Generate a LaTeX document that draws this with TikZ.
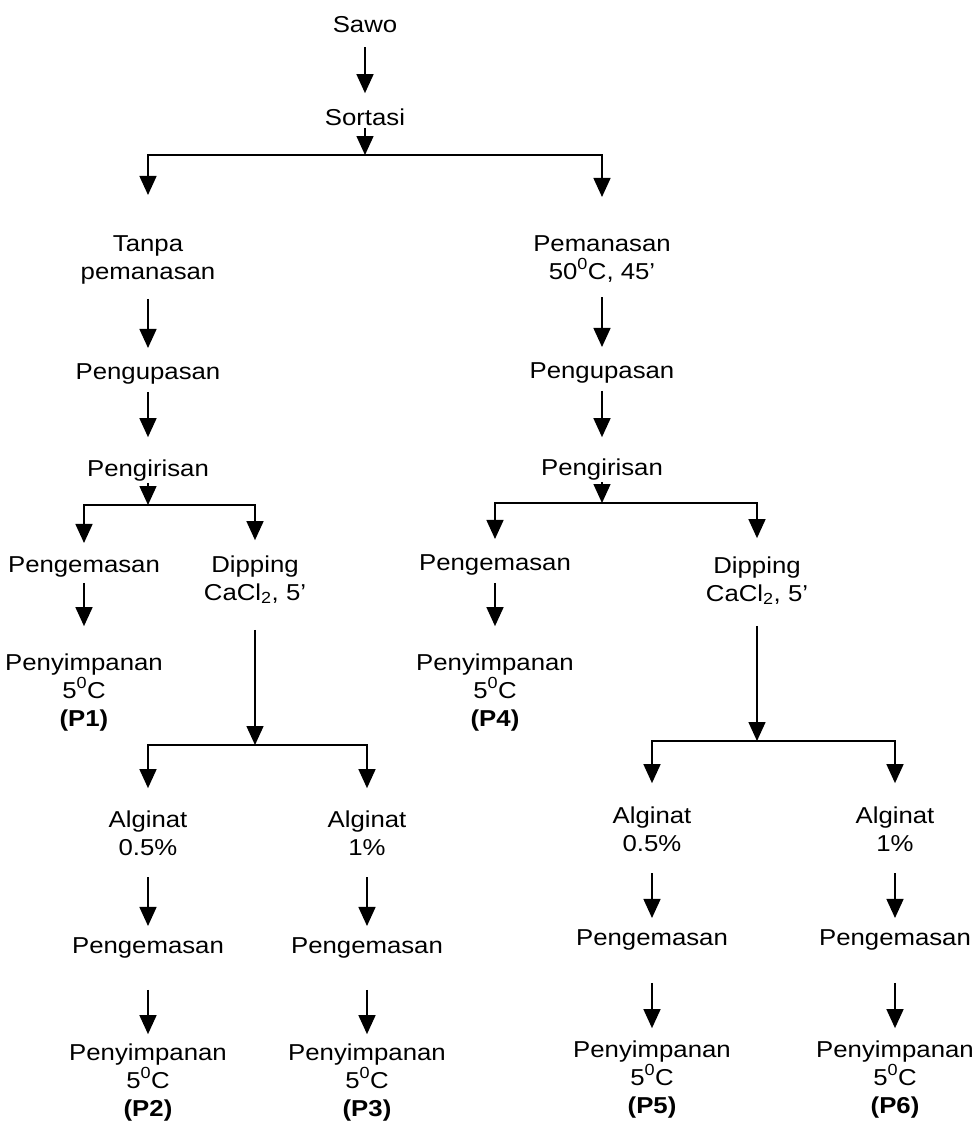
\documentclass[tikz,border=0pt]{standalone}
\usepackage{fontspec}
\setmainfont{Liberation Sans}[FakeStretch=1.12]
\usepackage{tikz}
\usetikzlibrary{arrows.meta}
\tikzstyle{lbl}= [align=center, inner sep=0pt, anchor=base, font=\fontsize{23}{28}\selectfont]
\tikzstyle{arr}= [-{Triangle[width=17pt,length=19pt]}, line width=1.5pt]
\tikzstyle{flow}= [arr, shorten <=15pt, shorten >=15pt]
\newcommand{\suhu}{5\textsuperscript{0}C}

\begin{document}
\begin{tikzpicture}[x=1pt, y=-1pt]
				\useasboundingbox (0,0) rectangle (976,1133);

				% base of a node = baseline of its last line
				\node[lbl] (sawo) at (365, 32) {Sawo};
				\node[lbl] (sortasi) at (365, 125) {Sortasi};
				\coordinate (j0) at (365, 155);

				% tanpa pemanasan
				\node[lbl] (tanpa) at (148, 279) {Tanpa\\pemanasan};
				\node[lbl] (kupasA) at (148, 379) {Pengupasan};
				\node[lbl] (irisA) at (148, 476) {Pengirisan};
				\coordinate (jA) at (148, 505);
				\node[lbl] (kemasA) at (84, 572) {Pengemasan};
				\node[lbl] (simpanA) at (84, 726) {Penyimpanan\\\suhu\\\textbf{(P1)}};
				\node[lbl] (dipA) at (255, 600) {Dipping\\CaCl\textsubscript{2}, 5'};
				\coordinate (jA2) at (255, 745);
				\node[lbl] (alg1) at (148, 855) {Alginat\\0.5\%};
				\node[lbl] (alg2) at (367, 855) {Alginat\\1\%};
				\node[lbl] (kemas1) at (148, 953) {Pengemasan};
				\node[lbl] (kemas2) at (367, 953) {Pengemasan};
				\node[lbl] (simpan1) at (148, 1116) {Penyimpanan\\\suhu\\\textbf{(P2)}};
				\node[lbl] (simpan2) at (367, 1116) {Penyimpanan\\\suhu\\\textbf{(P3)}};

				% pemanasan
				\node[lbl] (pemanasan) at (602, 279) {Pemanasan\\50\textsuperscript{0}C, 45'};
				\node[lbl] (kupasB) at (602, 378) {Pengupasan};
				\node[lbl] (irisB) at (602, 475) {Pengirisan};
				\coordinate (jB) at (602, 503);
				\node[lbl] (kemasB) at (495, 570) {Pengemasan};
				\node[lbl] (simpanB) at (495, 726) {Penyimpanan\\\suhu\\\textbf{(P4)}};
				\node[lbl] (dipB) at (757, 601) {Dipping\\CaCl\textsubscript{2}, 5'};
				\coordinate (jB2) at (757, 741);
				\node[lbl] (alg3) at (652, 851) {Alginat\\0.5\%};
				\node[lbl] (alg4) at (895, 851) {Alginat\\1\%};
				\node[lbl] (kemas3) at (652, 945) {Pengemasan};
				\node[lbl] (kemas4) at (895, 945) {Pengemasan};
				\node[lbl] (simpan3) at (652, 1113) {Penyimpanan\\\suhu\\\textbf{(P5)}};
				\node[lbl] (simpan4) at (895, 1113) {Penyimpanan\\\suhu\\\textbf{(P6)}};

				\draw[flow] (sawo) -- (sortasi);
				\draw[arr, shorten <=3pt] (sortasi) -- (j0);
				\draw[arr, shorten >=40pt] (j0) -| (tanpa);
				\draw[arr, shorten >=38pt] (j0) -| (pemanasan);

				\draw[flow] (tanpa) -- (kupasA);
				\draw[flow, shorten <=8pt, shorten >=22pt] (kupasA) -- (irisA);
				\draw[arr, shorten <=2pt] (irisA) -- (jA);
				\draw[arr, shorten >=13pt] (jA) -| (kemasA);
				\draw[arr, shorten >=15pt] (jA) -| (dipA);
				\draw[flow, shorten <=6pt, shorten >=27pt] (kemasA) -- (simpanA);
				\draw[arr, shorten <=26pt] (dipA) -- (jA2);
				\draw[arr, shorten >=22pt] (jA2) -| (alg1);
				\draw[arr, shorten >=22pt] (jA2) -| (alg2);
				\draw[flow, shorten <=22pt, shorten >=11pt] (alg1) -- (kemas1);
				\draw[flow, shorten <=22pt, shorten >=11pt] (alg2) -- (kemas2);
				\draw[flow, shorten <=32pt, shorten >=9pt] (kemas1) -- (simpan1);
				\draw[flow, shorten <=32pt, shorten >=9pt] (kemas2) -- (simpan2);

				\draw[flow] (pemanasan) -- (kupasB);
				\draw[flow, shorten <=8pt, shorten >=21pt] (kupasB) -- (irisB);
				\draw[arr, shorten <=2pt] (irisB) -- (jB);
				\draw[arr, shorten >=15pt] (jB) -| (kemasB);
				\draw[arr, shorten >=18pt] (jB) -| (dipB);
				\draw[flow, shorten <=8pt, shorten >=27pt] (kemasB) -- (simpanB);
				\draw[arr, shorten <=21pt] (dipB) -- (jB2);
				\draw[arr, shorten >=23pt] (jB2) -| (alg3);
				\draw[arr, shorten >=23pt] (jB2) -| (alg4);
				\draw[flow, shorten <=22pt, shorten >=11pt] (alg3) -- (kemas3);
				\draw[flow, shorten <=22pt, shorten >=11pt] (alg4) -- (kemas4);
				\draw[flow, shorten <=33pt, shorten >=12pt] (kemas3) -- (simpan3);
				\draw[flow, shorten <=33pt, shorten >=12pt] (kemas4) -- (simpan4);
			\end{tikzpicture}
\end{document}
